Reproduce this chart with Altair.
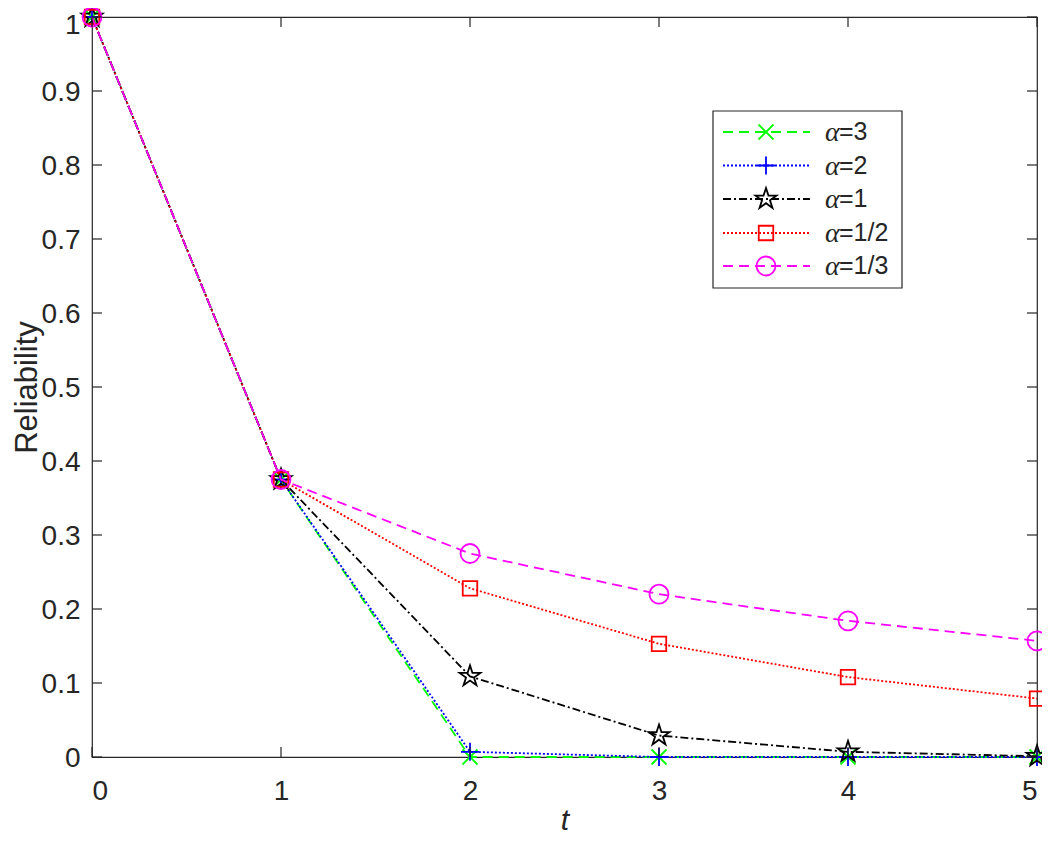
import altair as alt
import pandas as pd

# ---- data ----
t_values = [0, 1, 2, 3, 4, 5]
series_names = ["α=3", "α=2", "α=1", "α=1/2", "α=1/3"]
label_suffix = ["=3", "=2", "=1", "=1/2", "=1/3"]
r_alpha3 = [1.0, 0.375, 0.0, 0.0, 0.0, 0.0]
r_alpha2 = [1.0, 0.375, 0.007, 0.0, 0.0, 0.0]
r_alpha1 = [1.0, 0.375, 0.109, 0.029, 0.007, 0.001]
r_alpha_half = [1.0, 0.375, 0.228, 0.153, 0.108, 0.079]
r_alpha_third = [1.0, 0.375, 0.275, 0.220, 0.184, 0.157]
x_ticks = [0, 1, 2, 3, 4, 5]
y_ticks = [0, 0.1, 0.2, 0.3, 0.4, 0.5, 0.6, 0.7, 0.8, 0.9, 1.0]

series_values = [r_alpha3, r_alpha2, r_alpha1, r_alpha_half, r_alpha_third]

# ---- styles ----
colors = ["#00ff00", "#0000ff", "#000000", "#ff0000", "#ff00ff"]
dashes = [[10, 6], [2, 2], [8, 3, 2, 3], [2, 2], [10, 6]]
star = ("M0,-1L0.2245,-0.309L0.951,-0.309L0.363,0.118L0.588,0.809L0,0.382"
        "L-0.588,0.809L-0.363,0.118L-0.951,-0.309L-0.2245,-0.309Z")
shapes = ["M-1,-1L1,1M-1,1L1,-1", "M-1,0L1,0M0,-1L0,1", star, "square", "circle"]
sizes = [225, 324, 480, 210, 360]

W, H = 945, 740
AX = "#262626"
FONT = "Liberation Sans"
LW = 1.8

xs = alt.Scale(domain=[0, 5], nice=False, zero=False)
ys = alt.Scale(domain=[0, 1], nice=False, zero=False)

x_axis = alt.Axis(values=x_ticks, ticks=False, domain=False, grid=False,
                  labelFontSize=28, labelPadding=20, labelColor=AX,
                  labelFont=FONT, title="t", titleFont=FONT,
                  titleFontStyle="italic", titleFontWeight="normal",
                  titleFontSize=30, titleColor=AX, titleY=48,
                  titleBaseline="top")
y_axis = alt.Axis(values=y_ticks, format="~g", ticks=False, domain=False,
                  grid=False, labelFontSize=28, labelPadding=12,
                  labelOffset={"condition": {"test": "datum.value >= 1",
                                             "value": 8},
                               "value": 1},
                  labelColor=AX, labelFont=FONT,
                  title="Reliability", titleFont=FONT,
                  titleFontWeight="normal", titleFontSize=31,
                  titleColor=AX, titleX=-80, titleBaseline="top")

X = alt.X("t:Q", scale=xs, axis=x_axis)
Y = alt.Y("R:Q", scale=ys, axis=y_axis)

layers = []
for i, name in enumerate(series_names):
    df = pd.DataFrame({"t": t_values, "R": series_values[i], "series": name})
    base = alt.Chart(df)
    line = base.mark_line(strokeWidth=LW, strokeDash=dashes[i],
                          color=colors[i]).encode(x=X, y=Y, order="t:Q")
    pts = base.mark_point(filled=False, strokeWidth=LW, opacity=1,
                          shape=shapes[i], size=sizes[i],
                          color=colors[i]).encode(x=X, y=Y)
    layers += [line, pts]

# ---- inward tick marks on all four sides ----
xt = alt.Chart(pd.DataFrame({"t": x_ticks}))
yt = alt.Chart(pd.DataFrame({"R": y_ticks}))
tick_style = dict(color=AX, strokeWidth=1.2)
layers += [
    xt.mark_rule(**tick_style).encode(x=X, y=alt.value(H), y2=alt.value(H - 10)),
    xt.mark_rule(**tick_style).encode(x=X, y=alt.value(0), y2=alt.value(10)),
    yt.mark_rule(**tick_style).encode(y=Y, x=alt.value(0), x2=alt.value(10)),
    yt.mark_rule(**tick_style).encode(y=Y, x=alt.value(W - 10), x2=alt.value(W)),
]

# ---- legend box ----
lg_left, lg_right, lg_top, lg_bottom = 621, 810, 94, 271
row_y = [115, 148.5, 182, 216, 249]
legend_box = alt.Chart(pd.DataFrame({"k": [0]})).mark_rect(
    fill="white", stroke=AX, strokeWidth=1.2).encode(
    x=alt.value(lg_left), x2=alt.value(lg_right),
    y=alt.value(lg_top), y2=alt.value(lg_bottom))
layers.append(legend_box)
for i, name in enumerate(series_names):
    d = alt.Chart(pd.DataFrame({"alpha": ["α"], "suffix": [label_suffix[i]]}))
    layers += [
        d.mark_rule(strokeWidth=LW, strokeDash=dashes[i], color=colors[i]).encode(
            x=alt.value(631), x2=alt.value(718), y=alt.value(row_y[i])),
        d.mark_point(filled=False, strokeWidth=LW, opacity=1, shape=shapes[i],
                     size=sizes[i], color=colors[i]).encode(
            x=alt.value(674), y=alt.value(row_y[i])),
        d.mark_text(align="left", baseline="middle", font="Liberation Serif",
                    fontStyle="italic", fontSize=28, color=AX).encode(
            text="alpha:N", x=alt.value(733), y=alt.value(row_y[i] + 1)),
        d.mark_text(align="left", baseline="middle", font=FONT, fontSize=25,
                    color=AX).encode(
            text="suffix:N", x=alt.value(747), y=alt.value(row_y[i])),
    ]

chart = alt.layer(*layers).properties(
    width=W, height=H,
    padding={"left": 84, "top": 9, "right": 5, "bottom": 85},
    autosize=alt.AutoSizeParams(type="none"),
).configure_view(stroke=AX, strokeWidth=1.2)

chart.save("out.html", embed_options={"renderer": "svg", "actions": False})
